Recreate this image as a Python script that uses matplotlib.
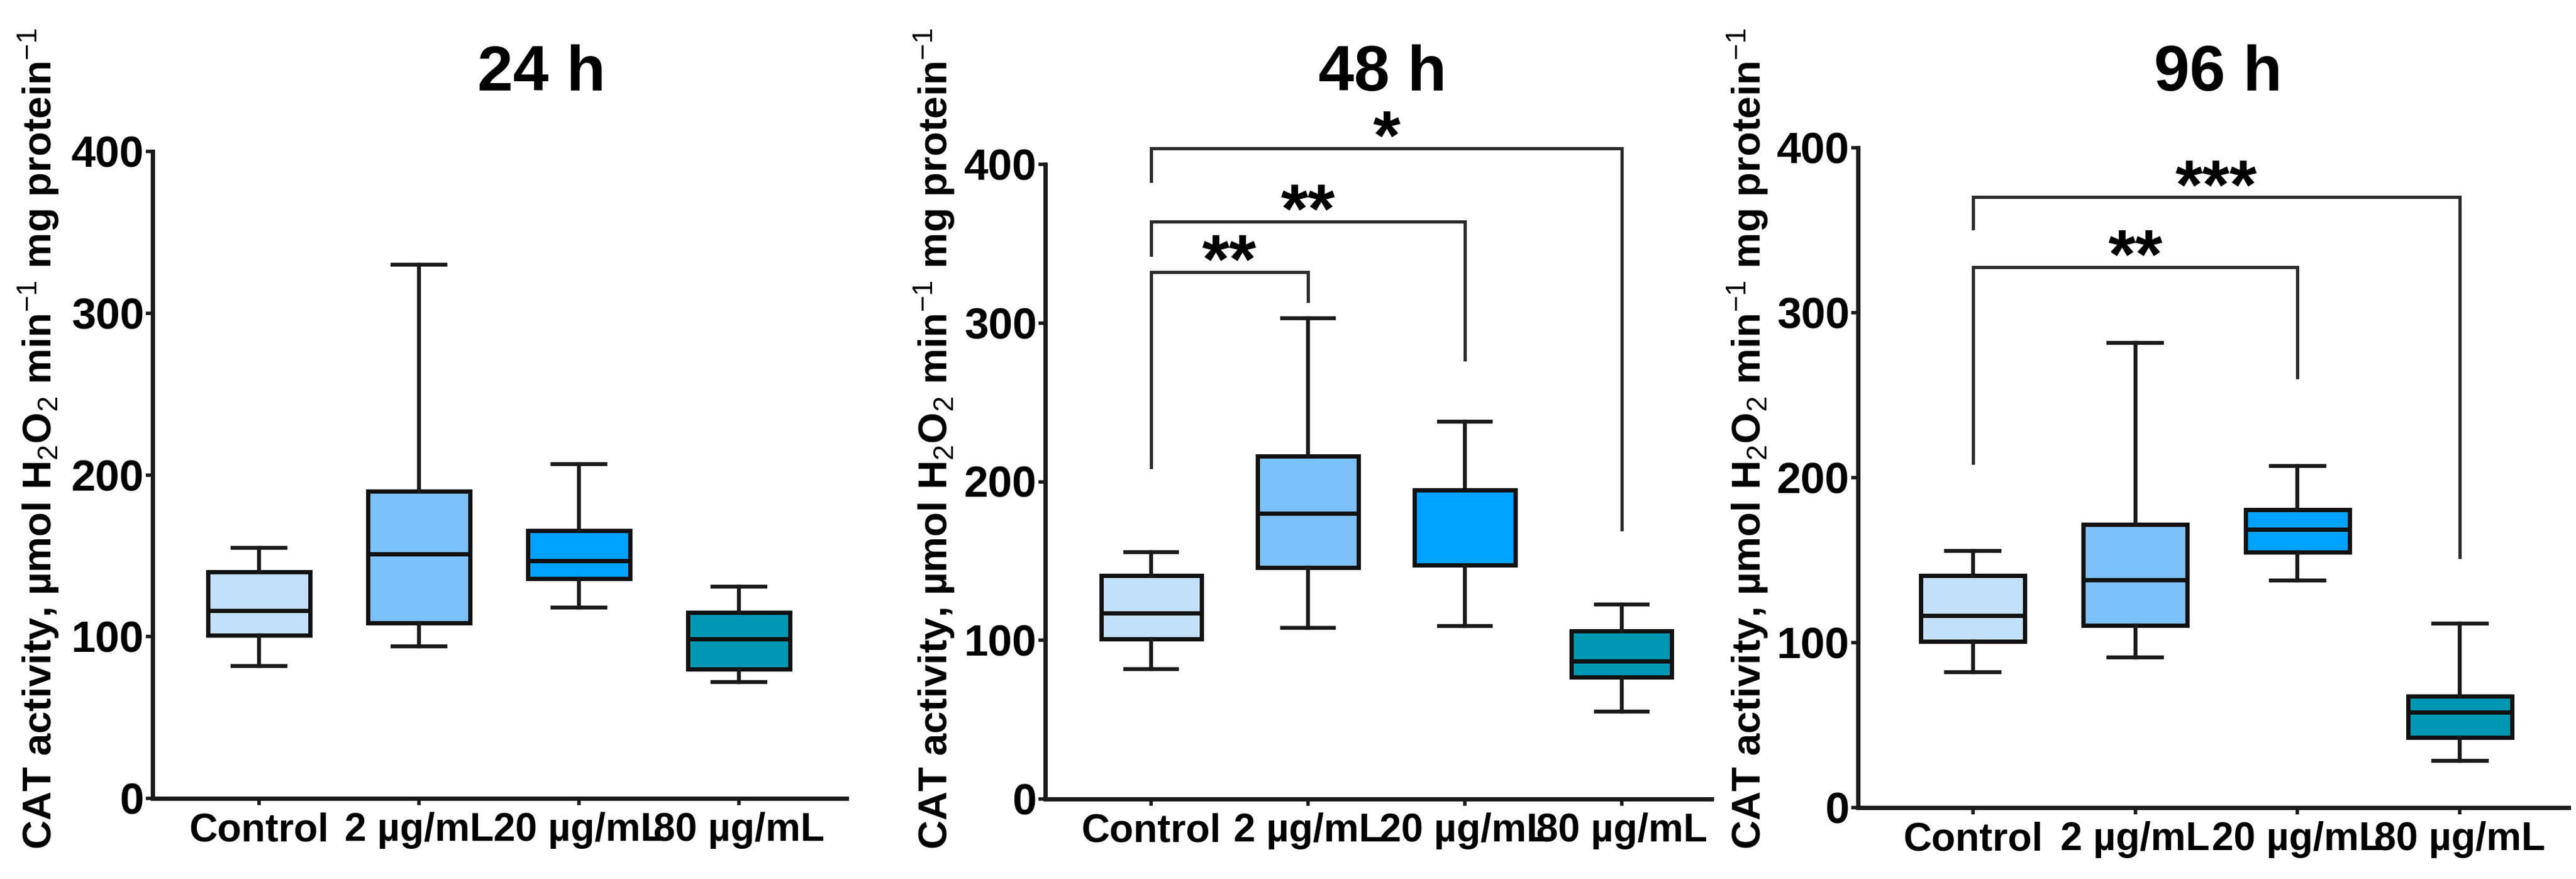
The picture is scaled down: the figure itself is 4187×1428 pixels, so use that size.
import matplotlib
matplotlib.use("Agg")
import matplotlib.pyplot as plt

plt.rcParams["font.family"] = ["Liberation Sans", "DejaVu Sans"]
plt.rcParams["mathtext.fontset"] = "custom"
plt.rcParams["mathtext.rm"] = "Liberation Sans"
plt.rcParams["mathtext.bf"] = "Liberation Sans:bold"
plt.rcParams["mathtext.it"] = "Liberation Sans:italic"

GROUPS = ["Control", "2 µg/mL", "20 µg/mL", "80 µg/mL"]
COLORS = ["#C2E0FA", "#7DC1FA", "#00A2FF", "#0097B2"]
TITLES = ["24 h", "48 h", "96 h"]

# box statistics (min whisker, Q1, median, Q3, max whisker)
LO_24 = [82, 94, 118, 72]
Q1_24 = [101, 108.5, 136, 80]
MED_24 = [116, 151, 147, 98.6]
Q3_24 = [140, 190, 165.6, 115]
HI_24 = [155, 330, 206.5, 131]

LO_48 = [82, 108, 109, 55]
Q1_48 = [101, 146, 147.5, 77]
MED_48 = [117, 180, 194.6, 87]
Q3_48 = [140.7, 216, 194.6, 105.8]
HI_48 = [155.6, 303, 238, 122.7]

LO_96 = [82, 91, 137.6, 28.4]
Q1_96 = [100.7, 110.5, 154.8, 42.4]
MED_96 = [116.4, 138, 168.5, 57.7]
Q3_96 = [140.8, 171.8, 180.6, 67.5]
HI_96 = [155.5, 281.7, 207, 111.5]

# significance brackets: (group a, group b, bar height, left leg end, right leg end, label)
SIG_24 = []
SIG_48 = [(0, 1, 332, 209, 314, "**"), (0, 2, 364, 343, 277, "**"), (0, 3, 410, 389.5, 170, "*")]
SIG_96 = [(0, 2, 327.6, 209, 261, "**"), (0, 3, 370, 351, 152, "***")]

YLABEL = r"CAT activity, µmol H$_2$O$_2$ min$^{-1}$ mg protein$^{-1}$"

W, H = 4187, 1428
DPI = 100

# axes placement in pixels: left, right, top, bottom, x limits
LAYOUT = [
    (248, 1376, 246, 1297, (-0.665, 3.673)),
    (1699, 2782, 267, 1298, (-0.675, 3.573)),
    (3020, 4175, 240, 1312, (-0.708, 3.670)),
]
TITLE_X = [880, 2247, 3605]
YLABEL_X = [84, 1541, 2862]
INK = "#111111"


def draw_panel(fig, k, lo, q1, med, q3, hi, sig):
    l, r, t, b, xlim = LAYOUT[k]
    ax = fig.add_axes([l / W, 1 - b / H, (r - l) / W, (b - t) / H])
    stats = [{"whislo": a, "q1": c, "med": d, "q3": e, "whishi": f, "label": g}
             for a, c, d, e, f, g in zip(lo, q1, med, q3, hi, GROUPS)]
    res = ax.bxp(stats, positions=range(len(GROUPS)), widths=0.64, capwidths=0.33,
                 patch_artist=True, showfliers=False,
                 boxprops=dict(linewidth=5.0, edgecolor=INK),
                 medianprops=dict(linewidth=5.0, color=INK),
                 whiskerprops=dict(linewidth=4.6, color="#1a1a1a"),
                 capprops=dict(linewidth=4.6, color="#1a1a1a"))
    for patch, c in zip(res["boxes"], COLORS):
        patch.set_facecolor(c)
    ax.set_xlim(*xlim)
    ax.set_ylim(0, 400)
    ax.set_yticks([0, 100, 200, 300, 400])
    ax.set_xticks(range(len(GROUPS)))
    ax.set_xticklabels(GROUPS, fontsize=46, fontweight="bold")
    for lab in ax.get_yticklabels():
        lab.set_fontsize(51)
        lab.set_fontweight("bold")
    for side in ["top", "right"]:
        ax.spines[side].set_visible(False)
    for side in ["left", "bottom"]:
        ax.spines[side].set_linewidth(5)
        ax.spines[side].set_color("#1a1a1a")
    ax.tick_params(axis="y", length=8, width=4, pad=2, color="#1a1a1a")
    ax.tick_params(axis="x", length=8, width=4, pad=8, color="#1a1a1a")

    for a, bb, y, la, lb, txt in sig:
        ax.plot([a, a, bb, bb], [la, y, y, lb], color="#2a2a2a", lw=3.8,
                clip_on=False, solid_joinstyle="miter")
        ax.annotate(txt, xy=((a + bb) / 2, y), xytext=(0, -13), textcoords="offset points",
                    ha="center", va="baseline", fontsize=82, fontweight="bold",
                    annotation_clip=False)

    fig.text(TITLE_X[k] / W, 1 - 147 / H, TITLES[k], ha="center", va="baseline",
             fontsize=75, fontweight="bold")
    fig.text(YLABEL_X[k] / W, 1 - 1380 / H, YLABEL, rotation=90, rotation_mode="anchor",
             ha="left", va="baseline", fontsize=47, fontweight="bold")
    return ax


fig = plt.figure(figsize=(W / DPI, H / DPI), dpi=DPI)
draw_panel(fig, 0, LO_24, Q1_24, MED_24, Q3_24, HI_24, SIG_24)
draw_panel(fig, 1, LO_48, Q1_48, MED_48, Q3_48, HI_48, SIG_48)
draw_panel(fig, 2, LO_96, Q1_96, MED_96, Q3_96, HI_96, SIG_96)
fig.savefig("out.png", dpi=DPI, facecolor="white")
